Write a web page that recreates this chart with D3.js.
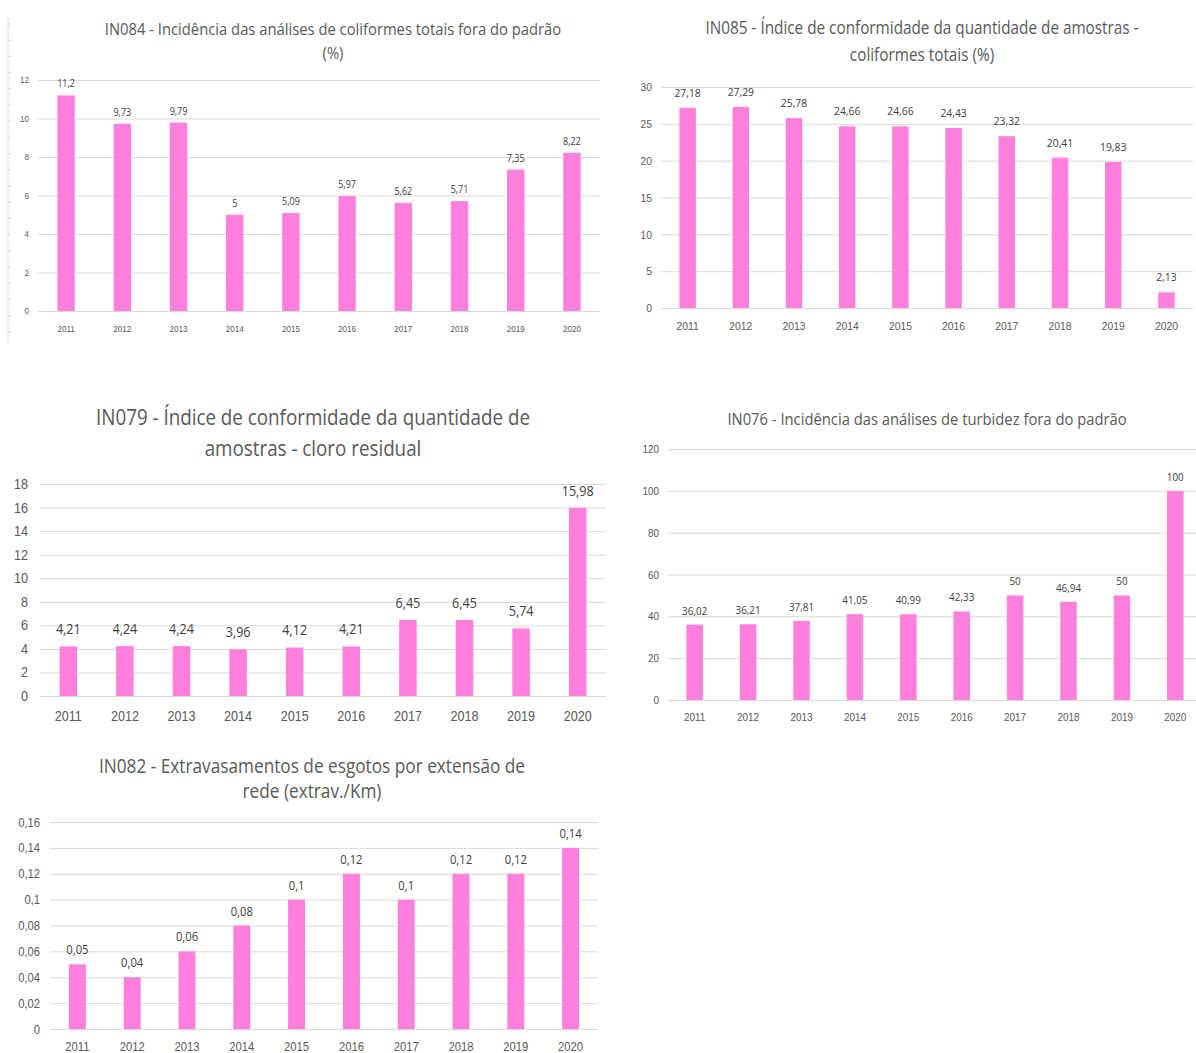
<!DOCTYPE html>
<html>
<head>
<meta charset="utf-8">
<script src="https://cdn.jsdelivr.net/npm/d3@7"></script>
<style>
  body { margin: 0; background: #fff; }
  svg { display: block; font-family: "Open Sans", "Liberation Sans", sans-serif; }
</style>
</head>
<body>
<svg id="chart" width="1196" height="1053"></svg>
<script>
var years = ["2011", "2012", "2013", "2014", "2015", "2016", "2017", "2018", "2019", "2020"];

var in084 = [11.2, 9.73, 9.79, 5, 5.09, 5.97, 5.62, 5.71, 7.35, 8.22];
var in085 = [27.18, 27.29, 25.78, 24.66, 24.66, 24.43, 23.32, 20.41, 19.83, 2.13];
var in079 = [4.21, 4.24, 4.24, 3.96, 4.12, 4.21, 6.45, 6.45, 5.74, 15.98];
var in076 = [36.02, 36.21, 37.81, 41.05, 40.99, 42.33, 50, 46.94, 50, 100];
var in082 = [0.05, 0.04, 0.06, 0.08, 0.1, 0.12, 0.1, 0.12, 0.12, 0.14];

var title084 = ["IN084 - Incidência das análises de coliformes totais fora do padrão", "(%)"];
var title085 = ["IN085 - Índice de conformidade da quantidade de amostras -", "coliformes totais (%)"];
var title079 = ["IN079 - Índice de conformidade da quantidade de", "amostras - cloro residual"];
var title076 = ["IN076 - Incidência das análises de turbidez fora do padrão"];
var title082 = ["IN082 - Extravasamentos de esgotos por extensão de", "rede (extrav./Km)"];

var ticks084 = [0, 2, 4, 6, 8, 10, 12];
var ticks085 = [0, 5, 10, 15, 20, 25, 30];
var ticks079 = [0, 2, 4, 6, 8, 10, 12, 14, 16, 18];
var ticks076 = [0, 20, 40, 60, 80, 100, 120];
var ticks082 = [0, 0.02, 0.04, 0.06, 0.08, 0.1, 0.12, 0.14, 0.16];

var ptBR = d3.formatLocale({ decimal: ",", thousands: ".", grouping: [3], currency: ["R$", ""] });
var fmt = ptBR.format("~g");

// the original uses a narrow font; squeeze Open Sans horizontally
var titleSqueeze = 0.87,
    textSqueeze = 0.9;

var svg = d3.select("#chart");

// layout of each panel (pixels)
var panels = [
    { values: in084, title: title084, ticks: ticks084,
      left: 38, right: 600, top: 80, bottom: 311, titleX: 333, titleY: 35, titleGap: 24, titleSize: 17,
      tickSize: 9, labelSize: 10, tickPad: 9, xLabelY: 332, labelGap: 8 },
    { values: in085, title: title085, ticks: ticks085,
      left: 661, right: 1193, top: 87, bottom: 308, titleX: 922, titleY: 34, titleGap: 27, titleSize: 17.6,
      tickSize: 11.5, labelSize: 11.5, tickPad: 9, xLabelY: 330, labelGap: 11 },
    { values: in079, title: title079, ticks: ticks079,
      left: 40, right: 606, top: 484, bottom: 696, titleX: 313, titleY: 425, titleGap: 31, titleSize: 21.6,
      tickSize: 14, labelSize: 14, tickPad: 12, xLabelY: 721, labelGap: 12 },
    { values: in076, title: title076, ticks: ticks076,
      left: 668, right: 1202, top: 449, bottom: 700, titleX: 927, titleY: 425, titleGap: 0, titleSize: 17,
      tickSize: 11, labelSize: 11, tickPad: 9, xLabelY: 721, labelGap: 10 },
    { values: in082, title: title082, ticks: ticks082,
      left: 50, right: 598, top: 822, bottom: 1029, titleX: 312, titleY: 773, titleGap: 25, titleSize: 19.8,
      tickSize: 12.5, labelSize: 12.5, tickPad: 10, xLabelY: 1051, labelGap: 10 }
];

// stray axis remnant on the far left of the first panel
var stray = svg.append("g").attr("class", "stray");
stray.append("line")
    .attr("x1", 8).attr("x2", 8).attr("y1", 18).attr("y2", 343)
    .attr("stroke", "#d9d9d9");
stray.selectAll("line.t")
    .data(d3.range(0, 20))
    .enter()
    .append("line")
    .attr("class", "t")
    .attr("x1", 8).attr("x2", 11)
    .attr("y1", function (d) { return 24 + d * 16.2; })
    .attr("y2", function (d) { return 24 + d * 16.2; })
    .attr("stroke", "#d9d9d9");

panels.forEach(function (p) {
    var g = svg.append("g");
    var max = p.ticks[p.ticks.length - 1];

    var x = d3.scaleBand()
        .domain(years)
        .range([p.left, p.right])
        .paddingInner(0.69)
        .paddingOuter(0.345);

    var y = d3.scaleLinear()
        .domain([0, max])
        .range([p.bottom, p.top]);

    // title
    g.append("text")
        .attr("transform", "translate(" + p.titleX + "," + p.titleY + ") scale(" + titleSqueeze + ",1)")
        .attr("text-anchor", "middle")
        .attr("font-size", p.titleSize)
        .attr("fill", "#595959")
        .selectAll("tspan")
        .data(p.title)
        .enter()
        .append("tspan")
        .attr("x", 0)
        .attr("dy", function (d, i) { return i === 0 ? 0 : p.titleGap; })
        .text(function (d) { return d; });

    // y axis with gridlines
    var yAxis = g.append("g")
        .attr("transform", "translate(" + p.left + ",0)")
        .call(d3.axisLeft(y)
            .tickValues(p.ticks)
            .tickSize(-(p.right - p.left))
            .tickPadding(p.tickPad)
            .tickFormat(fmt));
    yAxis.select(".domain").remove();
    yAxis.selectAll(".tick line").attr("stroke", "#d9d9d9");
    yAxis.selectAll(".tick text")
        .attr("x", -p.tickPad / textSqueeze)
        .attr("transform", "scale(" + textSqueeze + ",1)")
        .attr("fill", "#595959")
        .attr("font-size", p.tickSize)
        .attr("font-family", null);

    // x axis labels
    var xAxis = g.append("g")
        .attr("transform", "translate(0," + p.bottom + ")")
        .call(d3.axisBottom(x).tickSize(0).tickPadding(0));
    xAxis.select(".domain").remove();
    xAxis.selectAll(".tick text")
        .attr("y", p.xLabelY - p.bottom)
        .attr("dy", "0")
        .attr("transform", "scale(" + textSqueeze + ",1)")
        .attr("fill", "#595959")
        .attr("font-size", p.tickSize)
        .attr("font-family", null);

    // bars
    g.selectAll("rect.bar")
        .data(p.values)
        .enter()
        .append("rect")
        .attr("class", "bar")
        .attr("x", function (d, i) { return x(years[i]); })
        .attr("y", function (d) { return y(d); })
        .attr("width", x.bandwidth())
        .attr("height", function (d) { return p.bottom - y(d); })
        .attr("fill", "#ff80dc");

    // data labels
    g.selectAll("text.val")
        .data(p.values)
        .enter()
        .append("text")
        .attr("class", "val")
        .attr("transform", function (d, i) {
            var cx = x(years[i]) + x.bandwidth() / 2;
            return "translate(" + cx + "," + (y(d) - p.labelGap) + ") scale(" + textSqueeze + ",1)";
        })
        .attr("text-anchor", "middle")
        .attr("font-size", p.labelSize)
        .attr("fill", "#404040")
        .text(function (d) { return fmt(d); });
});
</script>
</body>
</html>
